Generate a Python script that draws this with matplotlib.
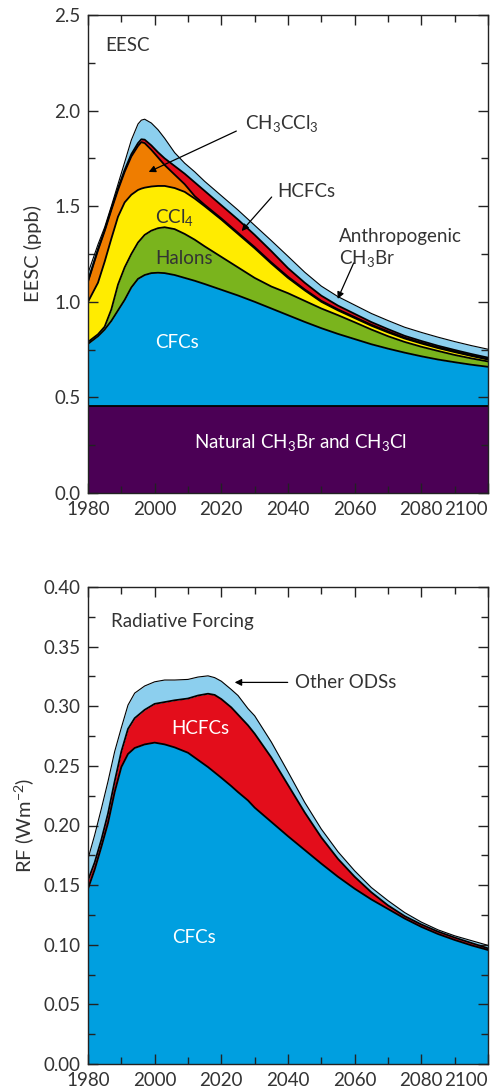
import matplotlib
matplotlib.use("Agg")
import matplotlib.pyplot as plt
from matplotlib.ticker import MultipleLocator, FormatStrFormatter

plt.rcParams["font.family"] = ["Lato", "DejaVu Sans"]
plt.rcParams["mathtext.default"] = "regular"

# ---- EESC (ppb): upper edge of each stacked band
eesc_years = [1980, 1983, 1985, 1987, 1989, 1991, 1993, 1995, 1996, 1997, 1999, 2001,
              2003, 2006, 2009, 2012, 2015, 2020, 2025, 2030, 2035, 2040, 2045, 2050,
              2055, 2060, 2065, 2070, 2075, 2080, 2085, 2090, 2095, 2100]
eesc_natural = [0.457, 0.457, 0.457, 0.457, 0.457, 0.457, 0.457, 0.457, 0.457, 0.457, 0.457, 0.457,
                0.457, 0.457, 0.457, 0.457, 0.457, 0.457, 0.457, 0.457, 0.457, 0.457, 0.457, 0.457,
                0.457, 0.457, 0.457, 0.457, 0.457, 0.457, 0.457, 0.457, 0.457, 0.457]
eesc_cfcs = [0.78, 0.82, 0.855, 0.90, 0.955, 1.01, 1.075, 1.12, 1.13, 1.14, 1.15, 1.152,
             1.15, 1.14, 1.125, 1.11, 1.093, 1.063, 1.033, 1.0, 0.965, 0.93, 0.895, 0.862,
             0.832, 0.805, 0.778, 0.755, 0.734, 0.715, 0.698, 0.684, 0.671, 0.66]
eesc_halons = [0.79, 0.83, 0.87, 0.96, 1.09, 1.18, 1.25, 1.31, 1.33, 1.35, 1.372, 1.385,
               1.39, 1.38, 1.355, 1.325, 1.29, 1.235, 1.18, 1.125, 1.08, 1.045, 1.005, 0.965,
               0.93, 0.893, 0.855, 0.82, 0.79, 0.765, 0.743, 0.722, 0.704, 0.688]
eesc_ccl4 = [1.0, 1.10, 1.21, 1.33, 1.445, 1.52, 1.56, 1.585, 1.592, 1.597, 1.603, 1.606,
             1.606, 1.595, 1.575, 1.54, 1.50, 1.43, 1.355, 1.28, 1.20, 1.125, 1.06, 1.0,
             0.955, 0.915, 0.875, 0.84, 0.808, 0.782, 0.758, 0.737, 0.717, 0.698]
eesc_ch3ccl3 = [1.105, 1.27, 1.37, 1.48, 1.585, 1.68, 1.76, 1.815, 1.835, 1.83, 1.795, 1.755,
                1.715, 1.665, 1.615, 1.553, 1.507, 1.436, 1.361, 1.286, 1.206, 1.131, 1.065, 1.005,
                0.96, 0.92, 0.88, 0.845, 0.812, 0.786, 0.762, 0.741, 0.72, 0.701]
eesc_hcfcs = [1.11, 1.275, 1.375, 1.487, 1.593, 1.69, 1.772, 1.83, 1.85, 1.848, 1.818, 1.782,
              1.75, 1.71, 1.67, 1.625, 1.58, 1.505, 1.43, 1.35, 1.265, 1.176, 1.10, 1.032,
              0.98, 0.937, 0.894, 0.857, 0.822, 0.795, 0.77, 0.748, 0.727, 0.708]
eesc_ch3br = [1.15, 1.30, 1.39, 1.50, 1.615, 1.73, 1.846, 1.93, 1.95, 1.955, 1.935, 1.90,
              1.855, 1.78, 1.725, 1.68, 1.63, 1.555, 1.48, 1.40, 1.32, 1.238, 1.155, 1.082,
              1.027, 0.983, 0.939, 0.902, 0.867, 0.84, 0.815, 0.792, 0.771, 0.752]

# ---- Radiative forcing (W m-2): upper edge of each stacked band
rf_years = [1980, 1982, 1984, 1986, 1988, 1990, 1992, 1994, 1997, 2000, 2003, 2006,
            2010, 2013, 2016, 2018, 2020, 2023, 2025, 2028, 2030, 2035, 2040, 2045,
            2050, 2055, 2060, 2065, 2070, 2075, 2080, 2085, 2090, 2095, 2100]
rf_cfcs = [0.147, 0.163, 0.182, 0.202, 0.228, 0.249, 0.260, 0.265, 0.268, 0.2695, 0.268, 0.2655,
           0.261, 0.255, 0.249, 0.2445, 0.240, 0.233, 0.228, 0.221, 0.215, 0.203, 0.191, 0.1795,
           0.168, 0.157, 0.147, 0.138, 0.130, 0.122, 0.115, 0.109, 0.104, 0.0995, 0.0956]
rf_hcfcs = [0.154, 0.169, 0.188, 0.210, 0.237, 0.262, 0.281, 0.290, 0.297, 0.302, 0.3035, 0.305,
            0.3065, 0.309, 0.3105, 0.3095, 0.306, 0.299, 0.293, 0.284, 0.277, 0.257, 0.234, 0.211,
            0.190, 0.172, 0.157, 0.144, 0.133, 0.124, 0.117, 0.111, 0.106, 0.1015, 0.097]
rf_other = [0.172, 0.192, 0.214, 0.237, 0.262, 0.282, 0.301, 0.311, 0.317, 0.3205, 0.322, 0.322,
            0.3225, 0.3245, 0.3255, 0.324, 0.321, 0.314, 0.309, 0.298, 0.292, 0.270, 0.245, 0.2195,
            0.197, 0.178, 0.162, 0.148, 0.137, 0.127, 0.119, 0.1125, 0.1075, 0.1035, 0.0995]

x_ticks = [1980, 2000, 2020, 2040, 2060, 2080, 2100]

PURPLE = "#4B0055"
BLUE = "#009FE0"
GREEN = "#7AB41D"
YELLOW = "#FFEC00"
ORANGE = "#EF7D00"
RED = "#E30D1B"
LIGHTBLUE = "#8CCFEE"
TXT = "#333333"


def stack(ax, years, edges, colors):
    lower = [0.0] * len(years)
    for top, c in zip(edges, colors):
        ax.fill_between(years, lower, top, color=c, lw=0, zorder=1)
        lower = top
    for i, top in enumerate(edges):
        lw = 0.8 if i == len(edges) - 1 else 1.3
        ax.plot(years, top, color="black", lw=lw, zorder=2, solid_joinstyle="round")


def style(ax, ymax, ymaj, ymin, fmt):
    ax.set_xlim(1980, 2100)
    ax.set_ylim(0, ymax)
    ax.set_xticks(x_ticks, [str(t) for t in x_ticks])
    ax.xaxis.set_minor_locator(MultipleLocator(10))
    ax.yaxis.set_major_locator(MultipleLocator(ymaj))
    ax.yaxis.set_minor_locator(MultipleLocator(ymin))
    ax.yaxis.set_major_formatter(FormatStrFormatter(fmt))
    ax.tick_params(which="both", direction="in", top=True, right=True, width=1.0,
                   color="#222222", labelcolor=TXT, labelsize=13.5, pad=5.5)
    ax.tick_params(which="major", length=7)
    ax.tick_params(which="minor", length=5)
    for s in ax.spines.values():
        s.set_linewidth(1.0)
        s.set_color("#222222")
    ax.get_xticklabels()[-1].set_horizontalalignment("right")


fig = plt.figure(figsize=(4.92, 10.87), dpi=100)
ax1 = fig.add_axes([88 / 492, 594 / 1087, 400 / 492, 478 / 1087])
ax2 = fig.add_axes([88 / 492, 23 / 1087, 400 / 492, 477 / 1087])

# top: EESC
stack(ax1, eesc_years,
      [eesc_natural, eesc_cfcs, eesc_halons, eesc_ccl4, eesc_ch3ccl3, eesc_hcfcs, eesc_ch3br],
      [PURPLE, BLUE, GREEN, YELLOW, ORANGE, RED, LIGHTBLUE])
style(ax1, 2.5, 0.5, 0.25, "%.1f")
ax1.set_ylabel("EESC (ppb)", fontsize=14.5, color=TXT)
ax1.yaxis.set_label_coords(-0.115, 0.5)

fs = 13.5
ax1.text(1985.3, 2.343, "EESC", fontsize=fs, color=TXT, va="center")
ax1.text(2000.0, 1.443, "CCl$_4$", fontsize=fs, color=TXT, va="center")
ax1.text(2000.2, 1.224, "Halons", fontsize=fs, color=TXT, va="center")
ax1.text(2000.2, 0.785, "CFCs", fontsize=fs, color="white", va="center")
ax1.text(2043.8, 0.263, "Natural CH$_3$Br and CH$_3$Cl", fontsize=fs, color="white",
         ha="center", va="center")
arrow = dict(arrowstyle="-|>", color="black", lw=0.9, mutation_scale=10, shrinkA=0, shrinkB=0)
ax1.annotate("", xy=(1998.2, 1.679), xytext=(2024.5, 1.893), arrowprops=arrow)
ax1.text(2027.0, 1.93, "CH$_3$CCl$_3$", fontsize=fs, color=TXT, va="center")
ax1.annotate("", xy=(2026.1, 1.370), xytext=(2035.1, 1.548), arrowprops=arrow)
ax1.text(2036.9, 1.579, "HCFCs", fontsize=fs, color=TXT, va="center")
ax1.annotate("", xy=(2054.9, 1.015), xytext=(2059.7, 1.203), arrowprops=arrow)
ax1.text(2055.2, 1.339, "Anthropogenic", fontsize=fs, color=TXT, va="center")
ax1.text(2055.2, 1.229, "CH$_3$Br", fontsize=fs, color=TXT, va="center")

# bottom: radiative forcing
stack(ax2, rf_years, [rf_cfcs, rf_hcfcs, rf_other], [BLUE, RED, LIGHTBLUE])
style(ax2, 0.40, 0.05, 0.025, "%.2f")
ax2.set_ylabel("RF (Wm$^{-2}$)", fontsize=14.5, color=TXT)
ax2.yaxis.set_label_coords(-0.13, 0.5)

ax2.text(1986.8, 0.371, "Radiative Forcing", fontsize=fs, color=TXT, va="center")
ax2.annotate("", xy=(2024.0, 0.320), xytext=(2039.9, 0.320), arrowprops=arrow)
ax2.text(2042.0, 0.320, "Other ODSs", fontsize=fs, color=TXT, va="center")
ax2.text(2005.1, 0.281, "HCFCs", fontsize=fs, color="white", va="center")
ax2.text(2005.1, 0.1057, "CFCs", fontsize=fs, color="white", va="center")

fig.savefig("out.png", dpi=100)
